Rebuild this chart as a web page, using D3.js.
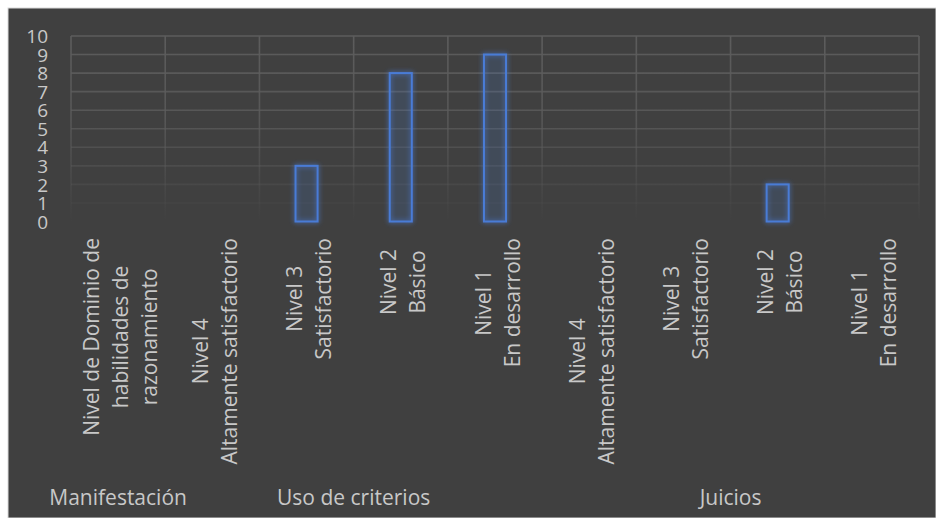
<!DOCTYPE html>
<html>
<head>
<meta charset="utf-8">
<script src="https://cdn.jsdelivr.net/npm/d3@7"></script>
<style>
  html, body { margin: 0; padding: 0; background: #ffffff; }
  svg { display: block; }
  text { font-family: "Open Sans", "Noto Sans", sans-serif; fill: #c8c8c8; }
</style>
</head>
<body>
<svg id="chart" width="936" height="518"></svg>
<script>
// ---- data ----
const categories = [
  ["Nivel de Dominio de", "habilidades de", "razonamiento"],
  ["Nivel 4", "Altamente satisfactorio"],
  ["Nivel 3", "Satisfactorio"],
  ["Nivel 2  ", "Básico  "],
  ["Nivel 1", "En desarrollo"],
  ["Nivel 4", "Altamente satisfactorio"],
  ["Nivel 3", "Satisfactorio"],
  ["Nivel 2  ", "Básico  "],
  ["Nivel 1", "En desarrollo"]
];
const values = [0, 0, 3, 8, 9, 0, 0, 2, 0];
const groupLabels = ["Manifestación", "Uso de criterios", "Juicios"];
const groupStart = [0, 1, 5];
const groupEnd = [0, 4, 8];
const yTicks = [0, 1, 2, 3, 4, 5, 6, 7, 8, 9, 10];

// ---- layout ----
const svg = d3.select("#chart");
const W = 936, H = 518;
const plot = { left: 71, right: 919, top: 36, bottom: 221.5 };

svg.append("rect").attr("x", 0).attr("y", 0).attr("width", W).attr("height", H).attr("fill", "#ffffff");
svg.append("rect").attr("x", 8).attr("y", 8).attr("width", W - 8).attr("height", H - 8)
  .attr("fill", "#404040").attr("stroke", "#d9d9d9").attr("stroke-width", 1);

const defs = svg.append("defs");
const grad = defs.append("linearGradient").attr("id", "gridFade")
  .attr("gradientUnits", "userSpaceOnUse")
  .attr("x1", 0).attr("y1", plot.top).attr("x2", 0).attr("y2", plot.bottom);
grad.append("stop").attr("offset", "0").attr("stop-color", "#5c5c5c").attr("stop-opacity", 1);
grad.append("stop").attr("offset", "0.45").attr("stop-color", "#5c5c5c").attr("stop-opacity", 0.8);
grad.append("stop").attr("offset", "1").attr("stop-color", "#5c5c5c").attr("stop-opacity", 0);

const glow = defs.append("filter").attr("id", "glow")
  .attr("x", "-60%").attr("y", "-20%").attr("width", "220%").attr("height", "140%");
glow.append("feGaussianBlur").attr("in", "SourceGraphic").attr("stdDeviation", 2.6).attr("result", "blur");
const merge = glow.append("feMerge");
merge.append("feMergeNode").attr("in", "blur");
merge.append("feMergeNode").attr("in", "SourceGraphic");

const idx = d3.range(categories.length);
const xCell = d3.scaleBand().domain(idx).range([plot.left, plot.right]).padding(0);
const xBar = d3.scaleBand().domain(idx).range([plot.left, plot.right])
  .paddingInner(0.766).paddingOuter(0.383);
const y = d3.scaleLinear().domain([0, 10]).range([plot.bottom, plot.top]);

// grid
const grid = svg.append("g").attr("stroke", "url(#gridFade)").attr("stroke-width", 1.6);
grid.selectAll("line.h").data(yTicks).join("line").attr("class", "h")
  .attr("x1", plot.left).attr("x2", plot.right)
  .attr("y1", d => y(d)).attr("y2", d => y(d));
const bounds = idx.map(i => xCell(i)).concat([plot.right]);
grid.selectAll("line.v").data(bounds).join("line").attr("class", "v")
  .attr("x1", d => d).attr("x2", d => d)
  .attr("y1", plot.top).attr("y2", plot.bottom);

// y axis labels
const yAxis = d3.axisLeft(y).tickValues(yTicks).tickSize(0).tickPadding(0).tickFormat(d3.format("d"));
const yg = svg.append("g").attr("transform", "translate(48,0)").call(yAxis);
yg.select(".domain").remove();
yg.selectAll("text").attr("font-size", 19).attr("fill", "#c8c8c8")
  .style("font-family", '"Open Sans", sans-serif').attr("dy", "0.35em");

// bars
svg.append("g").selectAll("rect").data(values.map((v, i) => ({ v, i })).filter(d => d.v > 0))
  .join("rect")
  .attr("x", d => xBar(d.i))
  .attr("width", xBar.bandwidth())
  .attr("y", d => y(d.v))
  .attr("height", d => y(0) - y(d.v))
  .attr("fill", "#4472c4").attr("fill-opacity", 0.1)
  .attr("stroke", "#4a7bd6").attr("stroke-width", 2)
  .attr("filter", "url(#glow)");

// x category labels (rotated, multi-line)
const lh = 29, fs = 21, topY = 238;
categories.forEach((lines, i) => {
  const cx = xCell(i) + xCell.bandwidth() / 2;
  const t = svg.append("text").attr("font-size", fs).attr("text-anchor", "middle")
    .attr("xml:space", "preserve").style("white-space", "pre");
  const n = lines.length;
  const spans = lines.map((s, k) => t.append("tspan").attr("x", 0)
    .attr("y", (k - (n - 1) / 2) * lh + 10).text(s));
  const maxLen = d3.max(spans, sp => sp.node().getComputedTextLength());
  t.attr("transform", `translate(${cx},${topY + maxLen / 2}) rotate(-90)`);
});

// group labels
groupLabels.forEach((g, k) => {
  const cx = (xCell(groupStart[k]) + xCell(groupEnd[k]) + xCell.bandwidth()) / 2;
  svg.append("text").attr("x", cx).attr("y", 505).attr("text-anchor", "middle")
    .attr("font-size", fs).text(g);
});
</script>
</body>
</html>
